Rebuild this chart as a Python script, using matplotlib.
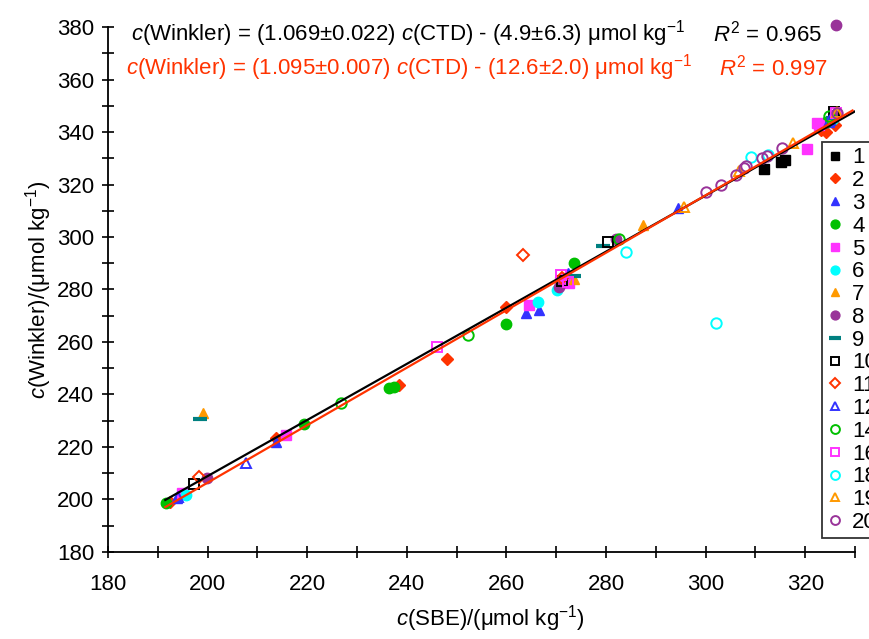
import numpy as np
import matplotlib
matplotlib.use("Agg")
import matplotlib.pyplot as plt
from matplotlib.ticker import MultipleLocator

plt.rcParams['font.family'] = ['Liberation Sans', 'DejaVu Sans']
plt.rcParams['mathtext.fontset'] = 'custom'
plt.rcParams['mathtext.rm'] = 'Liberation Sans'
plt.rcParams['mathtext.it'] = 'Liberation Sans:italic'

# station data: (SBE, Winkler) pairs
labels = ["1", "2", "3", "4", "5", "6", "7", "8", "9", "10", "11", "12", "14", "16", "18", "19", "20"]
x_data = [
    [311.7, 315.1, 315.9],
    [192.5, 213.8, 238.5, 248.0, 259.9, 323.2, 324.1, 326.0],
    [193.8, 213.8, 263.9, 266.6, 272.3, 294.4, 324.8, 325.1],
    [191.6, 219.4, 236.5, 237.5, 259.9, 273.6, 324.2],
    [194.8, 215.8, 264.6, 272.6, 272.0, 320.4, 322.4, 322.8],
    [195.6, 266.4, 270.1, 325.5],
    [199.0, 273.6, 287.5, 325.3],
    [326.2, 199.8, 270.6, 282.0, 325.8],
    [198.4, 279.3, 273.5, 325.5],
    [197.3, 280.3, 271.2, 325.8],
    [198.2, 263.3, 271.2],
    [207.7, 194.0, 325.0],
    [226.8, 252.2, 282.7, 324.8],
    [246.0, 271.0, 272.3, 326.1],
    [302.0, 284.1, 309.1, 312.6],
    [295.7, 306.7, 317.6, 326.3],
    [300.0, 303.0, 306.1, 307.7, 308.1, 311.3, 312.4, 315.3, 326.4],
]
y_data = [
    [325.9, 328.7, 329.2],
    [198.9, 223.3, 243.6, 253.4, 273.2, 340.8, 340.1, 342.5],
    [200.4, 222.0, 270.9, 272.2, 286.2, 310.9, 343.9, 345.2],
    [198.7, 228.8, 242.4, 243.0, 266.7, 290.0, 344.0],
    [202.4, 224.6, 274.1, 282.5, 284.2, 333.4, 343.3, 342.7],
    [201.7, 275.4, 279.8, 345.0],
    [232.8, 283.9, 304.6, 346.0],
    [380.8, 208.1, 281.1, 299.1, 346.5],
    [230.6, 296.6, 285.0, 345.5],
    [205.9, 298.2, 283.2, 347.7],
    [208.7, 293.1, 284.4],
    [214.0, 201.0, 344.5],
    [236.6, 262.7, 299.1, 346.0],
    [258.2, 285.5, 283.0, 347.1],
    [267.4, 294.4, 330.6, 331.2],
    [311.6, 325.1, 335.7, 347.5],
    [317.3, 319.8, 323.6, 326.2, 327.0, 330.0, 330.9, 334.0, 347.3],
]
colors = ["#000000", "#ff3300", "#3333ff", "#00c000", "#ff33ff", "#00ffff", "#ff9900", "#993399", "#008080",
          "#000000", "#ff3300", "#3333ff", "#00c000", "#ff33ff", "#00ffff", "#ff9900", "#993399"]
markers = ["s", "D", "^", "o", "s", "o", "^", "o", "_", "s", "D", "^", "o", "s", "o", "^", "o"]
filled = [True] * 9 + [False] * 8

# regression lines
fit_all = (1.069, -4.9)
fit_clean = (1.095, -12.6)

fig = plt.figure(figsize=(8.69, 6.39), dpi=100)
ax = fig.add_axes([0.1243, 0.1362, 0.8596, 0.8215])

for i in range(len(labels)):
    c = colors[i]
    mk = markers[i]
    ms = 7.5 if mk != "D" else 6
    if mk == "_":
        ax.plot(x_data[i], y_data[i], linestyle="none", marker="_", markersize=10, markeredgewidth=3,
                color=c, label=labels[i], clip_on=False, zorder=3)
    elif filled[i]:
        ax.plot(x_data[i], y_data[i], linestyle="none", marker=mk, markersize=ms, color=c,
                markeredgecolor=c, label=labels[i], clip_on=False, zorder=3)
    else:
        ax.plot(x_data[i], y_data[i], linestyle="none", marker=mk, markersize=ms, markerfacecolor="none",
                markeredgecolor=c, markeredgewidth=1.4, label=labels[i], clip_on=False, zorder=3)

xx = np.array([191.5, 330.5])
ax.plot(xx, fit_all[0] * xx + fit_all[1], color="black", lw=1.6, zorder=4)
xx = np.array([191.5, 329.5])
ax.plot(xx, fit_clean[0] * xx + fit_clean[1], color="#ff3300", lw=1.6, zorder=5)

ax.set_xlim(180, 330)
ax.set_ylim(180, 380)
ax.xaxis.set_major_locator(MultipleLocator(20))
ax.xaxis.set_minor_locator(MultipleLocator(10))
ax.yaxis.set_major_locator(MultipleLocator(20))
ax.yaxis.set_minor_locator(MultipleLocator(10))
ax.set_xticks(np.arange(180, 321, 20))
ax.tick_params(which="both", direction="inout", length=8, width=1.2, labelsize=16)
ax.tick_params(axis="x", which="both", pad=12)
ax.tick_params(axis="y", which="both", pad=6)
for s in ["top", "right"]:
    ax.spines[s].set_visible(False)
for s in ["left", "bottom"]:
    ax.spines[s].set_linewidth(1.3)

ax.set_xlabel(r"$\it{c}$(SBE)/(μmol kg$^{-1}$)", fontsize=16)
ax.xaxis.set_label_coords(0.512, -0.098)
ax.set_ylabel(r"$\it{c}$(Winkler)/(μmol kg$^{-1}$)", fontsize=16, labelpad=2)

fig.text(0.1505, 0.948, r"$\it{c}$(Winkler) = (1.069±0.022) $\it{c}$(CTD) - (4.9±6.3) μmol kg$^{-1}$",
         fontsize=16, va="center", color="black")
fig.text(0.8205, 0.948, r"$\it{R}^2$ = 0.965", fontsize=16, va="center", color="black")
fig.text(0.1455, 0.8936, r"$\it{c}$(Winkler) = (1.095±0.007) $\it{c}$(CTD) - (12.6±2.0) μmol kg$^{-1}$",
         fontsize=16, va="center", color="#ff3300")
fig.text(0.8275, 0.8936, r"$\it{R}^2$ = 0.997", fontsize=16, va="center", color="#ff3300")

leg = ax.legend(loc="upper left", bbox_to_anchor=(0.946, 0.778), bbox_transform=fig.transFigure,
                fontsize=16, frameon=True, fancybox=False, handlelength=0.7, handletextpad=0.4,
                labelspacing=0.08, borderpad=0.25, borderaxespad=0, markerscale=0.85)
leg.get_frame().set_edgecolor("black")
leg.get_frame().set_linewidth(1.3)

fig.savefig("out.png", dpi=100)
